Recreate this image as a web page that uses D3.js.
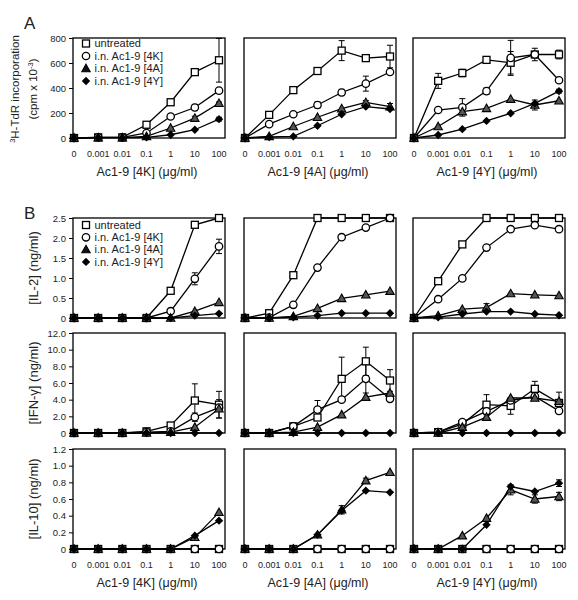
<!DOCTYPE html>
<html><head><meta charset="utf-8">
<script src="https://cdn.jsdelivr.net/npm/d3@7"></script>
<style>body{margin:0;background:#fff}svg text{font-family:Arial,"Liberation Sans",sans-serif;fill:#222}</style>
</head><body><svg id="c" width="578" height="600"></svg>
<script>
// ---------- data ----------
const doses = ["0","0.001","0.01","0.1","1","10","100"];
const seriesNames = ["untreated","i.n. Ac1-9 [4K]","i.n. Ac1-9 [4A]","i.n. Ac1-9 [4Y]"];
const peptides = ["4K","4A","4Y"];

const tdrTicks = [0,200,400,600,800];
const il2Ticks = [0,0.5,1.0,1.5,2.0,2.5];
const ifnTicks = [0,2,4,6,8,10,12];
const il10Ticks = [0,0.2,0.4,0.6,0.8,1.0,1.2];

// 3H-TdR incorporation (cpm x 10^-3): series order untreated, 4K, 4A, 4Y
const tdr_4K = [[0,5,5,106,286,527,622],[0,5,5,40,172,244,379],[0,3,3,13,80,159,278],[0,3,3,5,26,66,151]];
const tdr_4K_err = [[0,0,0,0,0,0,175],[0,0,0,0,0,25,0],[0,0,0,0,0,15,10],[0,0,0,0,0,0,15]];
const tdr_4A = [[0,185,383,536,699,639,652],[0,111,190,264,364,435,528],[0,13,92,166,235,285,251],[0,8,13,98,190,251,232]];
const tdr_4A_err = [[0,0,0,0,80,0,90],[0,0,0,25,25,60,0],[0,0,0,0,0,15,25],[0,0,0,0,0,0,0]];
const tdr_4Y = [[0,457,520,625,602,668,668],[0,224,245,375,641,668,462],[0,92,211,237,311,264,298],[0,24,71,137,198,277,375]];
const tdr_4Y_err = [[0,60,30,0,90,50,35],[0,0,70,25,140,0,0],[0,0,0,0,0,40,0],[0,0,0,0,0,0,15]];

// IL-2 (ng/ml)
const il2_4K = [[0,0,0,0,0.68,2.33,2.5],[0,0,0,0,0.17,0.98,1.79],[0,0,0,0,0,0.17,0.39],[0,0,0,0,0,0.06,0.11]];
const il2_4K_err = [[0,0,0,0,0,0,0],[0,0,0,0,0,0.15,0.18],[0,0,0,0,0,0,0],[0,0,0,0,0,0,0]];
const il2_4A = [[0,0.12,1.07,2.5,2.5,2.5,2.5],[0,0.01,0.33,1.26,2.02,2.26,2.5],[0,0,0.04,0.24,0.49,0.58,0.67],[0,0,0.02,0.06,0.12,0.12,0.12]];
const il2_4A_err = [[0,0,0,0,0,0,0],[0,0,0,0,0,0,0],[0,0,0,0,0,0,0],[0,0,0,0,0,0,0]];
const il2_4Y = [[0,0.92,1.84,2.5,2.5,2.5,2.5],[0,0.47,0.99,1.76,2.22,2.32,2.22],[0,0.06,0.22,0.26,0.61,0.58,0.56],[0,0.02,0.1,0.16,0.16,0.1,0.07]];
const il2_4Y_err = [[0,0,0,0,0,0,0],[0,0,0,0,0,0,0],[0,0,0,0.1,0,0,0],[0,0,0,0,0,0,0]];

// IFN-gamma (ng/ml)
const ifn_4K = [[0,0,0,0.2,0.9,3.9,3.4],[0,0,0,0.1,0.2,1.9,3.05],[0,0,0,0,0.1,0.7,2.9],[0,0,0,0,0,0,0]];
const ifn_4K_err = [[0,0,0,0,0,2.0,1.6],[0,0,0,0,0,0.5,0],[0,0,0,0,0,0,1.1],[0,0,0,0,0,0,0]];
const ifn_4A = [[0,0,0.8,1.86,6.5,8.6,6.3],[0,0,0.8,2.8,4.0,6.5,4.1],[0,0,0.1,0.7,2.2,4.3,4.8],[0,0,0,0,0,0,0]];
const ifn_4A_err = [[0,0,0,0,2.6,1.7,1.3],[0,0,0,1.1,0,1.7,0],[0,0,0,0,0,0,0],[0,0,0,0,0,0,0]];
const ifn_4Y = [[0,0.1,1.07,3.4,3.25,5.3,3.6],[0,0.1,1.3,2.6,3.9,4.4,2.65],[0,0,0.7,1.9,4.2,4.2,3.8],[0,0,0,0,0,0,0]];
const ifn_4Y_err = [[0,0,0,1.2,1.0,0.9,1.3],[0,0,0,0,0,0,0],[0,0,0,0,0,0,0],[0,0,0,0,0,0,0]];

// IL-10 (ng/ml)
const il10_4K = [[0,0,0,0,0,0,0],[0,0,0,0,0,0,0],[0,0,0,0,0,0.14,0.44],[0,0,0,0,0,0.16,0.34]];
const il10_4K_err = [[0,0,0,0,0,0,0],[0,0,0,0,0,0,0],[0,0,0,0,0,0,0],[0,0,0,0,0,0,0]];
const il10_4A = [[0,0,0,0,0,0,0],[0,0,0,0,0,0,0],[0,0,0,0.17,0.47,0.82,0.92],[0,0,0,0.17,0.46,0.70,0.68]];
const il10_4A_err = [[0,0,0,0,0,0,0],[0,0,0,0,0,0,0],[0,0,0,0,0.05,0.03,0],[0,0,0,0,0,0,0]];
const il10_4Y = [[0,0,0,0,0,0,0],[0,0,0,0,0,0,0],[0,0,0.16,0.37,0.71,0.6,0.63],[0,0,0,0.29,0.75,0.69,0.79]];
const il10_4Y_err = [[0,0,0,0,0,0,0],[0,0,0,0,0,0,0],[0,0,0,0,0.06,0.05,0.05],[0,0,0,0,0,0,0.04]];

// ---------- layout ----------
const svg = d3.select("#c");
const lefts = [73, 244, 413];
const W = 152, H = 100;
const rows = [
  {top:38,  max:800, ticks:tdrTicks, fmt:d=>String(d), data:[tdr_4K,tdr_4A,tdr_4Y], err:[tdr_4K_err,tdr_4A_err,tdr_4Y_err], xlab:true, legend:true, lg:{y:43.5, dy:12.5}},
  {top:218, max:2.5, ticks:il2Ticks, fmt:d=>d===0?"0":d3.format(".1f")(d), data:[il2_4K,il2_4A,il2_4Y], err:[il2_4K_err,il2_4A_err,il2_4Y_err], title:"[IL-2] (ng/ml)", legend:true, lg:{y:225, dy:12.3}},
  {top:333, max:12, ticks:ifnTicks, fmt:d=>d===0?"0":d3.format(".1f")(d), data:[ifn_4K,ifn_4A,ifn_4Y], err:[ifn_4K_err,ifn_4A_err,ifn_4Y_err], title:"[IFN-γ] (ng/ml)"},
  {top:449, max:1.2, ticks:il10Ticks, fmt:d=>d===0?"0":d3.format(".1f")(d), data:[il10_4K,il10_4A,il10_4Y], err:[il10_4K_err,il10_4A_err,il10_4Y_err], title:"[IL-10] (ng/ml)", xlab:true}
];

const x = d3.scalePoint().domain(doses).range([1, 146]);

function marker(g, k, cx, cy, legend) {
  if (k === 0) {
    g.append("rect").attr("x", cx-3.5).attr("y", cy-3.5).attr("width", 7).attr("height", 7)
      .attr("fill", "#fff").attr("stroke", "#000").attr("stroke-width", 1.3);
  } else if (k === 1) {
    g.append("circle").attr("cx", cx).attr("cy", cy).attr("r", 3.7)
      .attr("fill", "#fff").attr("stroke", "#000").attr("stroke-width", 1.3);
  } else if (k === 2) {
    g.append("path").attr("d", `M${cx},${cy-4.3}L${cx+4.2},${cy+3.2}L${cx-4.2},${cy+3.2}Z`)
      .attr("fill", legend ? "#111" : "#555").attr("stroke", "#000").attr("stroke-width", 1.1);
  } else {
    g.append("path").attr("d", `M${cx},${cy-4.2}L${cx+4.2},${cy}L${cx},${cy+4.2}L${cx-4.2},${cy}Z`)
      .attr("fill", "#000");
  }
}

rows.forEach((row, ri) => {
  const y = d3.scaleLinear().domain([0, row.max]).range([H, 0]);
  lefts.forEach((lx, ci) => {
    const g = svg.append("g").attr("transform", `translate(${lx},${row.top})`);
    g.append("rect").attr("width", W).attr("height", H).attr("fill", "none").attr("stroke", "#000").attr("stroke-width", 1.3);
    if (ci === 0) {
      const ax = g.append("g").call(d3.axisLeft(y).tickValues(row.ticks).tickFormat(row.fmt).tickSize(4).tickPadding(3));
      ax.select(".domain").remove();
      ax.selectAll("line").attr("stroke", "#000");
      ax.selectAll("text").style("font-size", "9.5px").attr("fill", "#222");
    }
    if (row.xlab) {
      doses.forEach(d => {
        g.append("text").attr("x", x(d)).attr("y", H + 19).attr("text-anchor", "middle")
          .style("font-size", "9px").text(d);
      });
      g.append("text").attr("x", W/2 - 2).attr("y", H + 38).attr("text-anchor", "middle")
        .style("font-size", "12.5px").text("Ac1-9 [" + peptides[ci] + "] (μg/ml)");
    }
    const data = row.data[ci], err = row.err[ci];
    const line = d3.line().x((v, i) => x(doses[i])).y(v => y(v));
    data.forEach((s, k) => {
      g.append("path").attr("d", line(s)).attr("fill", "none").attr("stroke", "#000").attr("stroke-width", 1.3);
    });
    data.forEach((s, k) => {
      s.forEach((v, i) => {
        const e = err[k][i];
        if (e > 0) {
          const cx = x(doses[i]);
          const y1 = Math.max(0, y(v + e)), y2 = Math.min(H, y(v - e));
          g.append("path").attr("d", `M${cx},${y1}L${cx},${y2}M${cx-3},${y1}L${cx+3},${y1}M${cx-3},${y2}L${cx+3},${y2}`)
            .attr("stroke", "#000").attr("stroke-width", 1).attr("fill", "none");
        }
      });
    });
    data.forEach((s, k) => {
      s.forEach((v, i) => marker(g, k, x(doses[i]), y(v), false));
    });
    if (row.legend && ci === 0) {
      seriesNames.forEach((n, k) => {
        const ly = row.lg.y - row.top + k*row.lg.dy;
        marker(g, k, 13, ly, true);
        g.append("text").attr("x", 21.5).attr("y", ly + 3.8).style("font-size", "11px").text(n);
      });
    }
  });
});

// Y titles
svg.append("text").attr("transform", "translate(19,89) rotate(-90)").attr("text-anchor", "middle")
  .style("font-size", "11.5px").html('<tspan font-size="7.5px" dy="-4">3</tspan><tspan dy="4">H-TdR incorporation</tspan>');
svg.append("text").attr("transform", "translate(37,89) rotate(-90)").attr("text-anchor", "middle")
  .style("font-size", "11.5px").html('(cpm x 10<tspan font-size="7.5px" dy="-4">-3</tspan><tspan dy="4">)</tspan>');
rows.slice(1).forEach(row => {
  svg.append("text").attr("transform", `translate(38,${row.top + H/2}) rotate(-90)`).attr("text-anchor", "middle")
    .style("font-size", "13px").text(row.title);
});

// panel letters
svg.append("text").attr("x", 24).attr("y", 29).style("font-size", "17px").text("A");
svg.append("text").attr("x", 24).attr("y", 219).style("font-size", "17px").text("B");
</script></body></html>
